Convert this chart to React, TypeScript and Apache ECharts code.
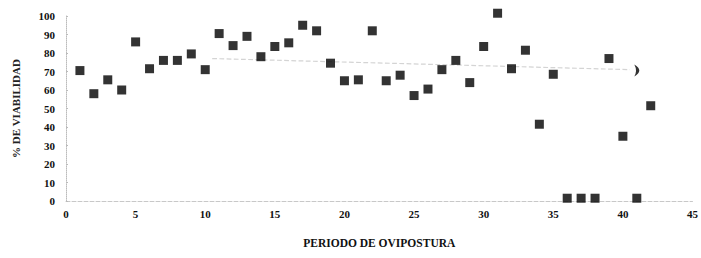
import React, { useEffect, useRef } from "react";
import * as echarts from "echarts";

const periods = [1,2,3,4,5,6,7,8,9,10,11,12,13,14,15,16,17,18,19,20,21,22,23,24,25,26,27,28,29,30,31,32,33,34,35,36,37,38,39,40,41,42];
const viability = [70.5,58,65.5,60,86,71.5,76,76,79.5,71,90.5,84,89,78,83.5,85.5,95,92,74.5,65,65.5,92,65,68,57,60.5,71,76,64,83.5,101.5,71.5,81.5,41.5,68.5,1.5,1.5,1.5,77,35,1.5,51.5];
const trendX = [10.5, 40.5];
const trendY = [77, 71];
const markerPoint = [41, 70.5];
const xTicks = [0,5,10,15,20,25,30,35,40,45];
const yTicks = [0,10,20,30,40,50,60,70,80,90,100];

export default function App() {
  const ref = useRef<HTMLDivElement>(null);
  useEffect(() => {
    const chart = echarts.init(ref.current!, null, { renderer: "svg" });
    const font = "'Liberation Serif', 'DejaVu Serif', serif";
    chart.setOption({
      animation: false,
      backgroundColor: "#ffffff",
      grid: { left: 66, right: 3, top: 16, bottom: 57 },
      xAxis: {
        type: "value",
        min: xTicks[0],
        max: xTicks[xTicks.length - 1],
        interval: 5,
        name: "PERIODO DE OVIPOSTURA",
        nameLocation: "middle",
        nameGap: 36,
        nameTextStyle: { fontFamily: font, fontSize: 11.5, color: "#111", fontWeight: "bold" },
        axisLine: { show: true, lineStyle: { color: "#c8c8c8", type: "dashed", width: 1 } },
        axisTick: { show: false },
        splitLine: { show: false },
        axisLabel: { fontFamily: font, fontSize: 11, color: "#111", fontWeight: "bold", margin: 7 },
      },
      yAxis: {
        type: "value",
        min: yTicks[0],
        max: yTicks[yTicks.length - 1],
        interval: 10,
        name: "% DE VIABILIDAD",
        nameLocation: "middle",
        nameRotate: 90,
        nameGap: 45,
        nameTextStyle: { fontFamily: font, fontSize: 11, color: "#222", fontWeight: "bold" },
        axisLine: { show: true, lineStyle: { color: "#bbbbbb", type: "dotted", width: 1 } },
        axisTick: { show: true, length: 2, inside: true, lineStyle: { color: "#bbbbbb" } },
        splitLine: { show: false },
        axisLabel: { fontFamily: font, fontSize: 11, color: "#111", fontWeight: "bold", margin: 11 },
      },
      series: [
        {
          type: "line",
          data: trendX.map((x, i) => [x, trendY[i]]),
          showSymbol: false,
          symbol: "none",
          lineStyle: { color: "#d4d4d4", width: 1.2, type: "dashed" },
          z: 1,
        },
        {
          type: "scatter",
          data: periods.map((p, i) => [p, viability[i]]),
          symbol: "rect",
          symbolSize: 9,
          clip: false,
          itemStyle: { color: "#000000" },
          z: 3,
        },
        {
          type: "scatter",
          data: [markerPoint],
          symbol: "path://M0,0 Q6,5 0,10 Q2,5 0,0 Z",
          symbolSize: [5, 12],
          clip: false,
          itemStyle: { color: "#000000" },
          z: 3,
        },
      ],
    });
    return () => chart.dispose();
  }, []);
  return <div ref={ref} style={{ position: "fixed", left: 0, top: 0, width: 701, height: 258 }} />;
}
